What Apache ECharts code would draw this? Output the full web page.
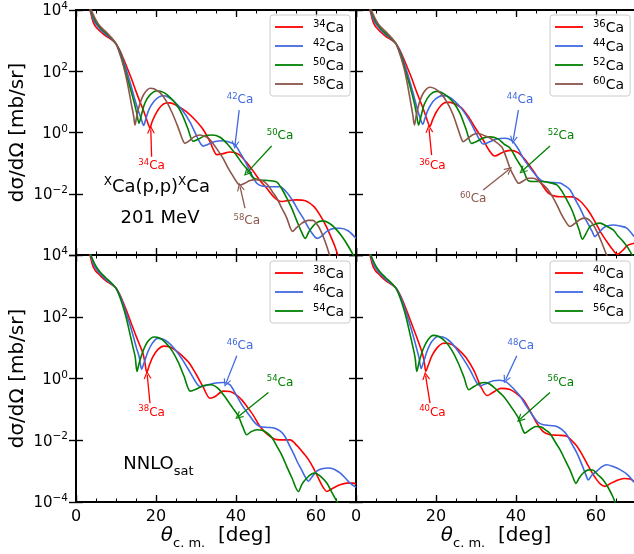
<!DOCTYPE html>
<html><head><meta charset="utf-8">
<script src="https://cdn.jsdelivr.net/npm/echarts@6/dist/echarts.min.js"></script>
<style>html,body{margin:0;padding:0;background:#fff}#c{width:634px;height:554px}</style>
</head><body><div id="c"></div>
<script>
// ---------------- data (theta [deg], dsigma/dOmega [mb/sr]) ----------------
const ca34 = [[3.0,1.8e4],[3.5,1.0e4],[4.2,4.4e3],[4.8,3.0e3],[5.4,2.45e3],[6.3,1.9e3],[7.5,1.4e3],[8.5,1.17e3],[9.3,9.8e2],[10,7.8e2],[10.7,5.6e2],[11.4,3.6e2],[12.5,1.6e2],[13.8,60],[15,22],[16,10],[16.8,5.5],[17.6,2.8],[18.1,1.8],[18.5,1.4],[19.0,2.2],[20.0,4.2],[21.2,7.2],[22.5,9.2],[23.5,9.3],[25,7.8],[27.5,4.9],[29.5,2.8],[31.7,1.3],[33.5,0.5],[34.5,0.25],[35.2,0.19],[36.5,0.2],[38.5,0.23],[40.5,0.2],[42.5,0.11],[44.3,0.055],[46,0.027],[47.7,0.015],[49.5,0.0078],[51.3,0.0056],[53,0.006],[55,0.0063],[57.5,0.0058],[59.5,0.0038],[61,0.002],[62.5,9e-4],[63.5,4.6e-4],[64.8,1.8e-4],[65.8,7e-5]];
const ca42 = [[3.0,1.8e4],[3.6,1.0e4],[4.2,5.6e3],[4.8,3.8e3],[5.4,3.0e3],[6.3,2.2e3],[7.5,1.6e3],[8.5,1.25e3],[9.3,1.0e3],[10,8.0e2],[10.7,5.3e2],[11.4,3.2e2],[12.5,1.2e2],[13.5,45],[14.5,15],[15.5,5.5],[16.3,2.8],[16.9,1.7],[17.4,2.6],[18.2,5.5],[19.5,10.5],[20.8,14.5],[21.8,15.8],[23,14.5],[24.5,10.5],[26.5,5.5],[28.5,2.2],[30.3,0.7],[31.2,0.42],[31.8,0.36],[32.8,0.4],[34.5,0.5],[36.8,0.54],[38.5,0.48],[39.75,0.4],[41.2,0.2],[42.7,0.09],[44,0.04],[45.2,0.022],[46.5,0.018],[48.5,0.017],[51,0.017],[52.7,0.011],[54.3,0.0056],[55.6,0.0028],[56.8,0.0016],[58.5,6.5e-4],[60.3,3.5e-4],[61.5,4.2e-4],[62.7,5.9e-4],[64.5,7.4e-4],[66,7.5e-4],[68,6.2e-4],[70,3.5e-4]];
const ca50 = [[3.0,1.8e4],[3.6,1.1e4],[4.2,6.6e3],[4.8,4.5e3],[5.4,3.4e3],[6.3,2.45e3],[7.5,1.75e3],[8.5,1.32e3],[9.3,1.03e3],[10,8.0e2],[10.7,5.0e2],[11.4,2.8e2],[12.5,88],[13.5,30],[14.5,10],[15.2,4.2],[15.75,2.0],[16.3,3.5],[17.2,9],[18.5,17],[20.3,23],[22,20],[23.5,14],[25,8.5],[26.5,4],[28,1.3],[29.3,0.52],[30.5,0.6],[32,0.75],[34,0.83],[36,0.7],[38,0.4],[40,0.19],[41.5,0.1],[43,0.058],[44.3,0.033],[46,0.028],[48,0.027],[50.2,0.024],[51.5,0.014],[52.7,0.0072],[54,0.0032],[55.2,0.0013],[56.3,6e-4],[57.3,3.5e-4],[58.3,6e-4],[60,1.1e-3],[61.8,1.3e-3],[63.5,1.05e-3],[65,7e-4],[66.5,4e-4],[68,2e-4],[69.5,9e-5]];
const ca58 = [[3.0,1.8e4],[3.6,1.2e4],[4.2,7.6e3],[4.8,5.2e3],[5.4,3.8e3],[6.3,2.7e3],[7.5,1.95e3],[8.5,1.4e3],[9.3,1.07e3],[10,8.0e2],[10.7,4.6e2],[11.4,2.4e2],[12.2,1.0e2],[13,33],[13.8,9],[14.4,3.5],[14.75,1.75],[15.2,3.5],[16,9],[17,18],[18.5,28],[19.5,27],[21,20],[22.5,11],[24,4.5],[25.5,1.5],[26.5,0.65],[27.25,0.44],[28.2,0.52],[29.5,0.72],[31,0.83],[32.5,0.72],[33.5,0.58],[35,0.32],[36.8,0.14],[38,0.07],[39.3,0.037],[40.2,0.024],[41,0.019],[42.2,0.022],[43.5,0.027],[45,0.029],[46.5,0.027],[48,0.019],[49.2,0.011],[50.2,0.0072],[51.5,0.0033],[52.7,0.0016],[53.6,7.5e-4],[54.1,5.9e-4],[55,7.5e-4],[56.5,1.1e-3],[58,1.35e-3],[59.2,1.35e-3],[60.5,9e-4],[61.5,5e-4],[62.5,2.3e-4],[63.5,9e-5]];

const ca36 = [[3.0,1.8e4],[3.5,1.0e4],[4.2,4.4e3],[4.8,3.0e3],[5.4,2.45e3],[6.3,1.85e3],[7.5,1.35e3],[8.5,1.13e3],[9.3,9.6e2],[10,7.8e2],[10.7,5.7e2],[11.4,3.7e2],[12.5,1.7e2],[13.8,65],[15,24],[16,11],[16.8,6],[17.6,3],[18.5,1.6],[19.1,2.5],[20,4.5],[21.2,7.5],[22.5,9.6],[23.5,9.6],[25,8.2],[26.5,6.2],[28.3,3.0],[30,1.3],[31.7,0.6],[33.3,0.26],[34.7,0.17],[36.5,0.22],[38.5,0.26],[40.5,0.22],[42.5,0.12],[44.75,0.046],[46.5,0.02],[48.1,0.0105],[50,0.0082],[51.5,0.008],[54,0.0079],[56,0.0058],[58,0.0029],[59.5,0.0014],[61.2,5.5e-4],[62.5,3e-4],[64,1.6e-4],[65.4,1.05e-4],[66.5,1.35e-4],[68,2.1e-4],[70,2.5e-4]];
const ca44 = [[3.0,1.8e4],[3.6,1.0e4],[4.2,5.6e3],[4.8,3.8e3],[5.4,3.0e3],[6.3,2.2e3],[7.5,1.55e3],[8.5,1.22e3],[9.3,9.9e2],[10,8.0e2],[10.7,5.4e2],[11.4,3.3e2],[12.5,1.2e2],[13.5,45],[14.5,15],[15.3,6],[16.1,2.8],[16.7,1.85],[17.2,2.8],[18,5.5],[19.3,10.5],[20.6,14.5],[21.8,16],[23,15],[24.5,11],[26.5,5.8],[28.5,2.3],[30.2,0.85],[31.2,0.5],[31.8,0.42],[33,0.47],[35,0.6],[37.25,0.65],[38.9,0.55],[40.5,0.3],[41.8,0.145],[43.5,0.07],[45.2,0.037],[46.5,0.026],[47.7,0.024],[49.5,0.023],[51,0.0225],[52.3,0.018],[53.5,0.0135],[54.8,0.0065],[56,0.0034],[57,0.0018],[58.1,1e-3],[59,6e-4],[59.75,4e-4],[60.8,5.5e-4],[61.8,7.6e-4],[63,9e-4],[64.3,9.5e-4],[66,8.8e-4],[67.7,7.6e-4],[69.5,4e-4]];
const ca52 = [[3.0,1.8e4],[3.6,1.1e4],[4.2,6.6e3],[4.8,4.5e3],[5.4,3.4e3],[6.3,2.4e3],[7.5,1.7e3],[8.5,1.3e3],[9.3,1.02e3],[10,8.0e2],[10.7,5.0e2],[11.4,2.9e2],[12.5,90],[13.5,32],[14.5,10],[15.1,4.2],[15.65,1.75],[16.2,3.2],[17.1,8.5],[18.5,17],[20.1,22],[21.5,20],[23,14.5],[24.5,9],[26,4.2],[27.5,1.3],[28.9,0.44],[30,0.5],[31.8,0.66],[33.5,0.72],[35.5,0.62],[37,0.42],[38.5,0.31],[40.2,0.13],[41.8,0.06],[43,0.027],[44.3,0.025],[46.5,0.025],[48.5,0.023],[50.2,0.0195],[51.5,0.012],[52.7,0.0063],[54,0.0029],[54.75,0.0016],[55.8,6.5e-4],[56.6,3.3e-4],[57.5,5e-4],[58.5,8.5e-4],[60,1.05e-3],[61,1.1e-3],[62.5,9e-4],[64.3,6.6e-4],[65.5,4.2e-4],[66.8,2.75e-4],[68,1.7e-4],[69.3,8.5e-5]];
const ca60 = [[3.0,1.8e4],[3.6,1.2e4],[4.2,7.6e3],[4.8,5.2e3],[5.4,3.8e3],[6.3,2.7e3],[7.5,1.95e3],[8.5,1.4e3],[9.3,1.07e3],[10,8.0e2],[10.7,4.6e2],[11.4,2.4e2],[12.2,1.0e2],[13,30],[13.7,9],[14.2,3.8],[14.6,1.75],[15.1,3.8],[15.9,10],[17,21],[18.5,30],[19.7,27],[21.2,19],[22.7,10],[24.2,4],[25.5,1.3],[26.2,0.7],[26.8,0.5],[27.8,0.62],[29.2,0.85],[30.6,0.93],[32.2,0.78],[34,0.6],[36.4,0.34],[37.5,0.16],[38.5,0.068],[39.6,0.035],[40.7,0.022],[41.8,0.026],[43,0.032],[44.3,0.032],[46,0.024],[47.7,0.015],[49,0.0085],[50.2,0.0044],[51.3,0.0022],[52.3,0.0013],[53.5,8.5e-4],[54.6,1.05e-3],[56,1.45e-3],[57.25,1.6e-3],[58.8,1.2e-3],[60.2,5.9e-4],[61.3,2.8e-4],[62.3,1.3e-4],[63,8e-5]];

const ca38 = [[3.0,1.8e4],[3.5,1.0e4],[4.2,4.5e3],[4.8,3.2e3],[5.4,2.6e3],[6.3,2.0e3],[7.5,1.45e3],[8.5,1.2e3],[9.3,1.02e3],[10,8.5e2],[10.7,6.0e2],[11.4,3.9e2],[12.5,1.75e2],[13.8,62],[15,24],[16,11.5],[16.7,6.8],[17.2,3.5],[17.7,1.6],[18.3,2.6],[19.2,5],[20.5,8.8],[22,11.2],[23.5,10.5],[25,8],[26.5,5.5],[28.3,3.2],[30,1.4],[31.7,0.56],[33.5,0.23],[34.8,0.26],[36.8,0.39],[38.5,0.38],[40,0.3],[41.5,0.2],[42.7,0.126],[44.3,0.065],[46,0.028],[48,0.015],[50.2,0.0105],[52,0.0103],[53.5,0.0103],[55.2,0.0068],[56.8,0.0039],[58,0.0025],[59.3,0.0013],[60.7,5.5e-4],[61.7,3.1e-4],[62.7,2.2e-4],[64,2.7e-4],[66,3.6e-4],[67.7,4.1e-4],[69.3,4.1e-4],[70,3.8e-4]];
const ca46 = [[3.0,1.8e4],[3.6,1.05e4],[4.2,6e3],[4.8,4.0e3],[5.4,3.1e3],[6.3,2.3e3],[7.5,1.6e3],[8.5,1.28e3],[9.3,1.05e3],[10,8.4e2],[10.7,5.8e2],[11.4,3.6e2],[12.5,1.35e2],[13.5,55],[14.3,24],[15.1,10],[15.8,5],[16.4,2.0],[17,3.2],[18,7.5],[19.1,14],[20.4,20],[21.5,19.5],[23,15],[24.5,9.5],[26.5,4.3],[28.5,1.6],[30,0.75],[31,0.55],[32.5,0.6],[34.5,0.7],[36.8,0.74],[38.5,0.62],[40.2,0.27],[41.8,0.12],[43.5,0.06],[44.8,0.036],[46,0.028],[48,0.026],[49.5,0.025],[51,0.02],[52.2,0.0135],[53.2,0.0075],[54.3,0.0039],[55.5,0.0018],[56.4,0.0011],[57.3,6.5e-4],[58.1,4.7e-4],[59,6.5e-4],[60.2,1.0e-3],[61.5,1.2e-3],[63.1,1.26e-3],[64.5,1.15e-3],[66,8.7e-4],[67.3,6e-4],[68.5,4.1e-4],[70,3e-4]];
const ca54 = [[3.0,1.8e4],[3.6,1.1e4],[4.2,7e3],[4.8,4.8e3],[5.4,3.6e3],[6.3,2.55e3],[7.5,1.8e3],[8.5,1.38e3],[9.3,1.08e3],[10,8.4e2],[10.7,5.3e2],[11.4,3.0e2],[12.5,1.0e2],[13.6,24],[14.2,11],[14.8,5],[15.25,1.7],[15.8,3.2],[16.8,8],[18,16],[19.5,22],[21,20],[22.5,14],[24,8],[25.5,3.5],[27,1.2],[28.6,0.39],[30,0.45],[31.8,0.58],[33.7,0.63],[35.5,0.48],[37.7,0.21],[39.2,0.11],[40.6,0.06],[41.7,0.027],[42.7,0.015],[43.8,0.019],[45.2,0.022],[46.5,0.021],[47.7,0.0175],[49,0.012],[50.2,0.0065],[51.5,0.0032],[52.7,0.0014],[54,6e-4],[55.6,2.2e-4],[56.5,3.8e-4],[57.7,6e-4],[59,8.2e-4],[59.75,8.7e-4],[61,7e-4],[62.7,4.1e-4],[64,2e-4],[65.2,1.05e-4],[66,7e-5]];

const ca40 = [[3.0,1.8e4],[3.5,1.0e4],[4.2,4.5e3],[4.8,3.2e3],[5.4,2.6e3],[6.3,2.0e3],[7.5,1.45e3],[8.5,1.2e3],[9.3,1.02e3],[10,8.5e2],[10.7,6.1e2],[11.4,4.0e2],[12.5,1.8e2],[13.8,65],[15,25],[16,11],[16.6,6.5],[17.1,3.2],[17.45,1.7],[18.1,2.8],[19,5.5],[20.3,10],[21.5,13.5],[22.5,14],[24,12.5],[25.5,9],[27.5,4.8],[29.5,1.8],[31.2,0.55],[32.8,0.28],[34.3,0.36],[36.2,0.48],[38.5,0.44],[40.2,0.32],[41.8,0.21],[43.5,0.09],[45.2,0.036],[46.8,0.019],[48.5,0.015],[50.5,0.0145],[52.7,0.0135],[54,0.0095],[55.2,0.0065],[56.5,0.0035],[57.7,0.0018],[59,9e-4],[60.2,5.2e-4],[61.2,3.7e-4],[62.25,3.2e-4],[63.5,3.9e-4],[65.2,5e-4],[67,5.8e-4],[68.5,5.6e-4],[70,4.2e-4]];
const ca48 = [[3.0,1.8e4],[3.6,1.05e4],[4.2,6e3],[4.8,4.0e3],[5.4,3.1e3],[6.3,2.3e3],[7.5,1.6e3],[8.5,1.28e3],[9.3,1.05e3],[10,8.4e2],[10.7,5.8e2],[11.4,3.7e2],[12.5,1.4e2],[13.5,55],[14.3,24],[15.1,10],[15.7,5],[16.3,2.1],[16.9,3.5],[17.9,8.5],[19,16],[20.5,23],[21.7,22],[23,18],[24.5,11.5],[26.5,5],[28.5,1.9],[30,0.8],[31,0.58],[32.5,0.68],[34.3,0.85],[35.8,0.88],[37.5,0.78],[39.5,0.45],[41,0.27],[42.7,0.12],[44.3,0.06],[45.5,0.038],[46.8,0.032],[48.5,0.03],[50.2,0.028],[51.5,0.022],[52.7,0.015],[54,0.0075],[55.2,0.0039],[56.5,0.0016],[57.4,8e-4],[58.1,5.2e-4],[59,7.5e-4],[60.2,1.0e-3],[61.5,1.4e-3],[62.7,1.6e-3],[64.3,1.4e-3],[66,1.12e-3],[67.7,8e-4],[69.5,4.4e-4]];
const ca56 = [[3.0,1.8e4],[3.6,1.1e4],[4.2,7e3],[4.8,4.8e3],[5.4,3.6e3],[6.3,2.55e3],[7.5,1.8e3],[8.5,1.38e3],[9.3,1.08e3],[10,8.4e2],[10.7,5.3e2],[11.4,3.0e2],[12.5,1.0e2],[13.6,24],[14.2,11],[14.8,4.5],[15.2,1.7],[15.8,3.5],[16.8,9],[18,18],[19.3,25],[20.7,23],[22.3,16],[24,8],[25.5,3.3],[27,1.1],[28.2,0.43],[29.5,0.55],[31,0.7],[32.3,0.74],[33.5,0.65],[35,0.45],[36.8,0.27],[38.8,0.12],[40.6,0.052],[41.5,0.025],[42.25,0.017],[43.5,0.022],[45,0.028],[46.3,0.027],[47.5,0.021],[48.5,0.0165],[50,0.008],[51,0.005],[52.2,0.0024],[53.5,0.0011],[54.3,6e-4],[55,4e-4],[55.8,6e-4],[56.8,8.7e-4],[58.2,1.1e-3],[59.2,1.08e-3],[60.5,7.5e-4],[61.8,5.2e-4],[63,3e-4],[64.3,1.4e-4],[65,8e-5]];

const xMajorTicks = [0, 20, 40, 60];
const yTickExponents = [-4, -2, 0, 2, 4];

// ---------------- styling ----------------
const COL = {r:'#ff0000', b:'#4169e1', g:'#008000', n:'#8c564b'};
const FONT = 'DejaVu Sans';
const E = (L) => Math.pow(10, L);

const panels = [
  {pos:[76,10,280,245], names:['34Ca','42Ca','50Ca','58Ca'], data:[ca34,ca42,ca50,ca58], cols:[COL.r,COL.b,COL.g,COL.n], showX:false, showY:true, hideMinY:true, legendTop:15,
   texts:[{t:'34Ca',at:[18.9,-1.07],c:COL.r},{t:'42Ca',at:[41,1.09],c:COL.b},{t:'50Ca',at:[51,-0.08],c:COL.g},{t:'58Ca',at:[42.7,-2.86],c:COL.n}],
   arrows:[{f:[18.9,-0.79],to:[18.7,0.10],c:COL.r},{f:[40.8,0.73],to:[39.75,-0.41],c:COL.b},{f:[48.9,-0.44],to:[42.7,-1.32],c:COL.g},{f:[42.25,-2.47],to:[41,-1.77],c:COL.n}],
   big:[{r:'{sx|X}{b|Ca(p,p)}{sx|X}{b|Ca}',at:[20.2,-1.81]},{r:'{b|201 MeV}',at:[21,-2.86]}]},
  {pos:[356,10,280,245], names:['36Ca','44Ca','52Ca','60Ca'], data:[ca36,ca44,ca52,ca60], cols:[COL.r,COL.b,COL.g,COL.n], showX:false, showY:false, legendTop:15,
   texts:[{t:'36Ca',at:[19.1,-1.07],c:COL.r},{t:'44Ca',at:[41,1.09],c:COL.b},{t:'52Ca',at:[51.25,-0.08],c:COL.g},{t:'60Ca',at:[29.3,-2.14],c:COL.n}],
   arrows:[{f:[18.9,-0.74],to:[18.25,0.13],c:COL.r},{f:[40.6,0.73],to:[39.3,-0.25],c:COL.b},{f:[48.5,-0.44],to:[41.6,-1.25],c:COL.g},{f:[31.8,-1.88],to:[38.25,-1.21],c:COL.n}],
   big:[]},
  {pos:[76,255,280,247], names:['38Ca','46Ca','54Ca'], data:[ca38,ca46,ca54], cols:[COL.r,COL.b,COL.g], showX:true, showY:true, legendTop:261,
   texts:[{t:'38Ca',at:[18.9,-1.07],c:COL.r},{t:'46Ca',at:[41,1.09],c:COL.b},{t:'54Ca',at:[51,-0.10],c:COL.g}],
   arrows:[{f:[18.5,-0.80],to:[17.8,0.12],c:COL.r},{f:[40.2,0.74],to:[37.5,-0.15],c:COL.b},{f:[48.1,-0.45],to:[40.6,-1.23],c:COL.g}],
   big:[{r:'{b|NNLO}{sb|sat}',at:[20.6,-2.86]}]},
  {pos:[356,255,280,247], names:['40Ca','48Ca','56Ca'], data:[ca40,ca48,ca56], cols:[COL.r,COL.b,COL.g], showX:true, showY:false, legendTop:261,
   texts:[{t:'40Ca',at:[19.1,-1.07],c:COL.r},{t:'48Ca',at:[41.2,1.09],c:COL.b},{t:'56Ca',at:[51.2,-0.10],c:COL.g}],
   arrows:[{f:[18.5,-0.80],to:[17.4,0.09],c:COL.r},{f:[40.2,0.74],to:[37.4,-0.04],c:COL.b},{f:[48.5,-0.45],to:[41,-1.32],c:COL.g}],
   big:[]}
];

const supRich = (size, raise, color) => ({fontSize:size, fontFamily:FONT, color:color, verticalAlign:'bottom', padding:[0,0,raise,0]});
const baseRich = (size, color) => ({fontSize:size, fontFamily:FONT, color:color, verticalAlign:'bottom'});
const isoRich = (name) => { const m = name.match(/^(\d+)(.*)$/); return '{s|' + m[1] + '}{c|' + m[2] + '}'; };

const ARROW = 'path://M0,10 L5,0 L10,10 L8.4,10 L5,3.2 L1.6,10 Z';

function xAxisDef(g, pos, major, labels) {
  return {
    gridIndex:g, type:'value', position:pos, min:0, max:70, interval: major ? 20 : 5,
    axisLine:{show:false}, splitLine:{show:false},
    axisTick:{show:true, inside:true, length: major ? 7 : 3.5, lineStyle:{color:'#000', width: major ? 1.4 : 1}},
    axisLabel:{show:labels, showMaxLabel:false, margin:7, color:'#000', fontSize:16, fontFamily:FONT,
      formatter: v => xMajorTicks.includes(v) ? String(v) : ''},
    name: labels ? '{t|θ}{sub|c. m.}{n|  [deg]}' : '',
    nameLocation:'middle', nameGap:19,
    nameTextStyle:{rich:{
      t:{fontSize:20, fontStyle:'italic', fontFamily:FONT, color:'#000', verticalAlign:'bottom', padding:[0,0,4,0]},
      sub:{fontSize:13, fontFamily:FONT, color:'#000', verticalAlign:'bottom'},
      n:{fontSize:20, fontFamily:FONT, color:'#000', verticalAlign:'bottom', padding:[0,0,4,0]}}}
  };
}
function yAxisDef(g, pos, labels, hideMin) {
  return {
    gridIndex:g, type:'log', logBase:10, position:pos, min:1e-4, max:1e4, interval:2,
    axisLine:{show:false}, splitLine:{show:false}, minorTick:{show:false}, minorSplitLine:{show:false},
    axisTick:{show:true, inside:true, length:7, lineStyle:{color:'#000', width:1.4}},
    axisLabel:{show:labels, showMinLabel: !hideMin, margin:8,
      formatter: v => { const e = Math.round(Math.log10(v)); if (!yTickExponents.includes(e)) return ''; return '{b|10}{s|' + (e < 0 ? '\u2212' + (-e) : e) + '}'; },
      rich:{b:baseRich(15,'#000'), s:supRich(10.5,7,'#000')}},
    name: labels ? 'd\u03c3/d\u03a9 [mb/sr]' : '', nameLocation:'middle', nameGap:48, nameRotate:90,
    nameTextStyle:{fontSize:20, fontFamily:FONT, color:'#000'}
  };
}

const grids = [], xAxes = [], yAxes = [], series = [], legends = [];
panels.forEach((p, i) => {
  grids.push({left:p.pos[0], top:p.pos[1], width:p.pos[2], height:p.pos[3], show:true, borderColor:'#000', borderWidth:2, backgroundColor:'rgba(0,0,0,0)', containLabel:false, outerBoundsMode:'none'});
  const xi = xAxes.length;
  xAxes.push(xAxisDef(i, 'bottom', true, p.showX));
  xAxes.push(xAxisDef(i, 'bottom', false, false));
  xAxes.push(xAxisDef(i, 'top', true, false));
  xAxes.push(xAxisDef(i, 'top', false, false));
  const yi = yAxes.length;
  yAxes.push(yAxisDef(i, 'left', p.showY, !!p.hideMinY));
  yAxes.push(yAxisDef(i, 'right', false, false));
  p.names.forEach((nm, k) => {
    series.push({type:'line', name:nm, xAxisIndex:xi, yAxisIndex:yi, data:p.data[k], symbol:'none', showSymbol:false,
      smooth:0.3, clip:true, lineStyle:{color:p.cols[k], width:1.6}, itemStyle:{color:p.cols[k]},
      emphasis:{disabled:true}, animation:false, z:2});
  });
  const mpData = p.texts.map(t => ({coord:[t.at[0], E(t.at[1])],
      label:{show:true, position:'inside', formatter:isoRich(t.t), rich:{s:supRich(8.5,5,t.c), c:baseRich(12,t.c)}}}))
    .concat(p.big.map(b => ({coord:[b.at[0], E(b.at[1])],
      label:{show:true, position:'inside', formatter:b.r, rich:{b:{fontSize:18, fontFamily:FONT, color:'#000', verticalAlign:'bottom', padding:[0,0,4,0]},
        sx:supRich(12,12,'#000'), sb:{fontSize:13, fontFamily:FONT, color:'#000', verticalAlign:'bottom'}}}})));
  series.push({type:'line', name:'annot'+i, xAxisIndex:xi, yAxisIndex:yi, data:[], silent:true, animation:false,
    markLine:{silent:true, animation:false, symbol:['none', ARROW], symbolSize:[8,8], label:{show:false},
      data:p.arrows.map(a => [{coord:[a.f[0], E(a.f[1])], lineStyle:{color:a.c, width:1.3, type:'solid'}, itemStyle:{color:a.c}}, {coord:[a.to[0], E(a.to[1])]}])},
    markPoint:{silent:true, animation:false, symbol:'rect', symbolSize:1, itemStyle:{color:'rgba(0,0,0,0)'}, data:mpData},
    z:5});
  legends.push({show:true, left:p.pos[0] + 194, top:p.legendTop, orient:'vertical', selectedMode:false,
    data:p.names, icon:'rect', itemWidth:28, itemHeight:1.8, itemGap:3, padding:[4,6,4,5],
    backgroundColor:'rgba(255,255,255,0.85)', borderColor:'#cccccc', borderWidth:1, borderRadius:3,
    formatter: nm => isoRich(nm),
    textStyle:{rich:{s:supRich(10,6,'#000'), c:baseRich(14,'#000')}, padding:[0,0,0,5]}});
});

const chart = echarts.init(document.getElementById('c'), null, {renderer:'canvas', width:634, height:554});
chart.setOption({animation:false, backgroundColor:'#fff', grid:grids, xAxis:xAxes, yAxis:yAxes, series:series, legend:legends});
</script></body></html>
